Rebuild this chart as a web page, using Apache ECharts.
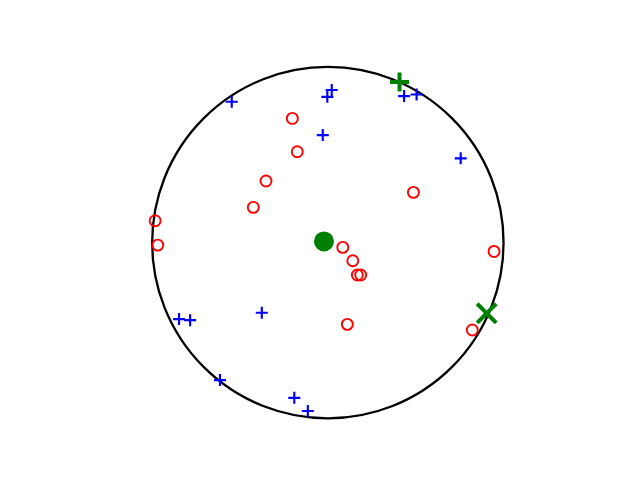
<!DOCTYPE html>
<html><head><meta charset="utf-8">
<script src="https://cdn.jsdelivr.net/npm/echarts@6/dist/echarts.min.js"></script>
<style>html,body{margin:0;padding:0;background:#fff}#c{width:640px;height:480px}</style>
</head><body><div id="c"></div>
<script>
// unit circle
const circleCenter = [0, 0];
const circleRadius = 1;
// blue "+" points
const bluePlus = [
  [-0.547, 0.802], [0.022, 0.869], [-0.003, 0.830], [-0.029, 0.612],
  [0.434, 0.834], [0.505, 0.843], [0.756, 0.480],
  [-0.847, -0.435], [-0.784, -0.441], [-0.376, -0.399],
  [-0.614, -0.782], [-0.191, -0.883], [-0.114, -0.958]
];
// red hollow circles
const redCircles = [
  [-0.202, 0.707], [-0.174, 0.517], [-0.352, 0.351], [-0.424, 0.201],
  [-0.983, 0.125], [-0.968, -0.014], [0.487, 0.286], [0.946, -0.050],
  [0.085, -0.027], [0.142, -0.103], [0.168, -0.184], [0.187, -0.184],
  [0.111, -0.465], [0.822, -0.497]
];
const greenDot = [[-0.022, 0.007]];
const greenPlus = [[0.408, 0.914]];
const greenX = [[0.904, -0.402]];

const plusThin = 'path://M41,0H59V41H100V59H59V100H41V59H0V41H41Z';
const plusThick = 'path://M39.5,0H60.5V39.5H100V60.5H60.5V100H39.5V60.5H0V39.5H39.5Z';
const crossX = 'path://M42.5,0H57.5V42.5H100V57.5H57.5V100H42.5V57.5H0V42.5H42.5Z';

const chart = echarts.init(document.getElementById('c'), null, {renderer: 'canvas'});
chart.setOption({
  backgroundColor: '#fff',
  animation: false,
  grid: {left: 117, top: 31.8, width: 421.7, height: 421.7},
  xAxis: {type: 'value', min: -1.2, max: 1.2, show: false},
  yAxis: {type: 'value', min: -1.2, max: 1.2, show: false},
  series: [
    {
      type: 'custom',
      data: [[circleCenter[0], circleCenter[1], circleRadius]],
      renderItem: function (params, api) {
        const c = api.coord([api.value(0), api.value(1)]);
        const s = api.size([api.value(2), api.value(2)]);
        return {
          type: 'circle',
          shape: {cx: c[0], cy: c[1], r: s[0]},
          style: {fill: 'none', stroke: '#000', lineWidth: 2.3}
        };
      },
      z: 1, silent: true
    },
    {
      type: 'scatter', data: bluePlus, symbol: plusThin, symbolSize: 12,
      itemStyle: {color: '#0000ff', opacity: 1}, z: 2, silent: true
    },
    {
      type: 'scatter', data: redCircles, symbol: 'circle', symbolSize: 11,
      itemStyle: {color: 'rgba(0,0,0,0)', borderColor: '#ff0000', borderWidth: 1.9, opacity: 1},
      z: 3, silent: true
    },
    {
      type: 'scatter', data: greenDot, symbol: 'circle', symbolSize: 20,
      itemStyle: {color: '#008000', opacity: 1}, z: 4, silent: true
    },
    {
      type: 'scatter', data: greenPlus, symbol: plusThick, symbolSize: 19,
      itemStyle: {color: '#008000', opacity: 1}, z: 4, silent: true
    },
    {
      type: 'scatter', data: greenX, symbol: crossX, symbolSize: 27, symbolRotate: 45,
      itemStyle: {color: '#008000', opacity: 1}, z: 4, silent: true
    }
  ]
});
</script></body></html>
